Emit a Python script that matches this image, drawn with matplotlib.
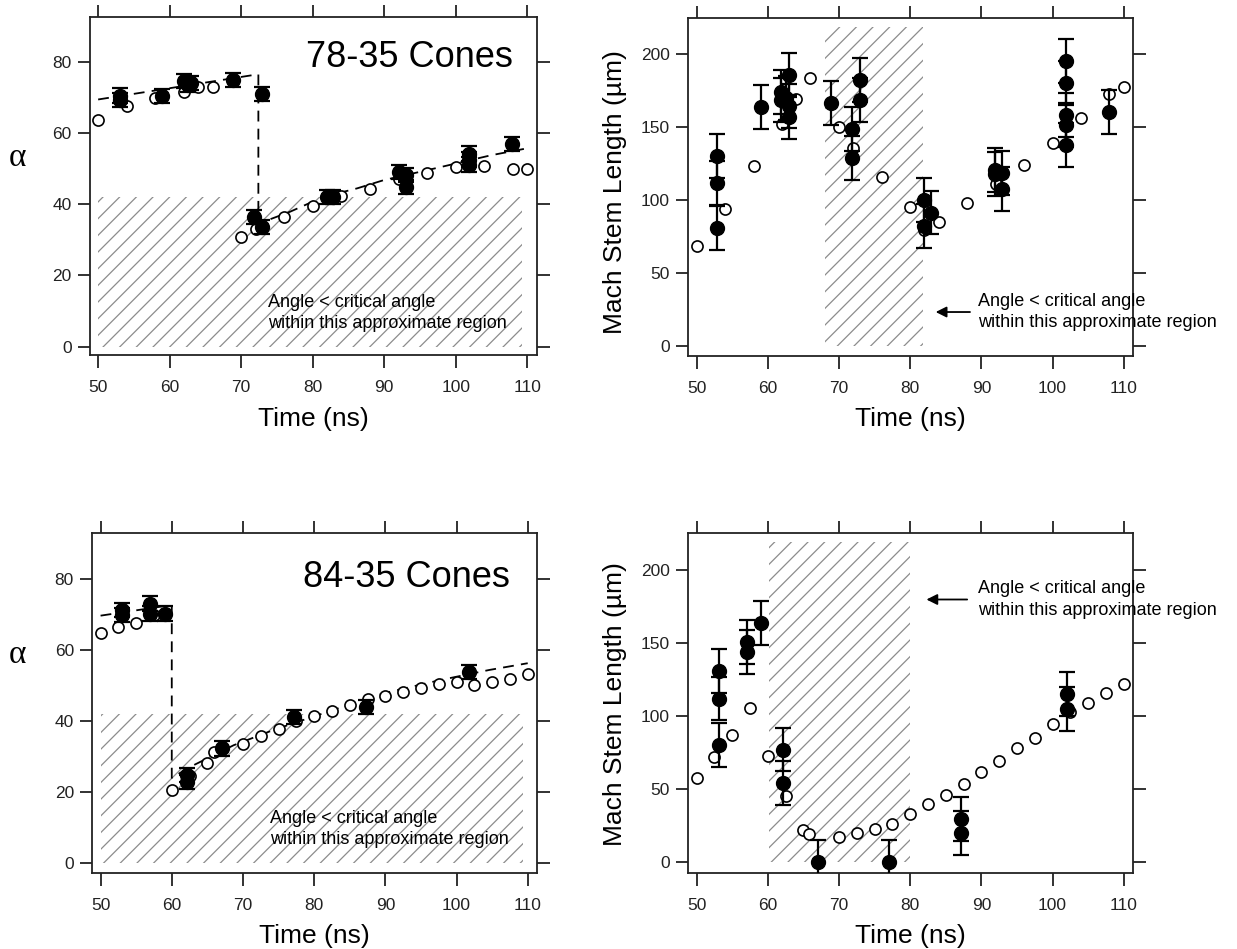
import matplotlib
matplotlib.use("Agg")
import matplotlib.pyplot as plt
from matplotlib.patches import Rectangle

plt.rcParams['font.family'] = ['Liberation Sans', 'DejaVu Sans']
plt.rcParams['hatch.linewidth'] = 0.9

# ---- 78-35 cones : angle ----
a1_open_t = [50, 54, 58, 62, 64, 66, 70, 72, 76, 80, 84, 88, 92, 96, 100, 104, 108, 110]
a1_open_v = [63.6, 67.8, 70.0, 71.6, 73.0, 73.0, 30.9, 33.2, 36.5, 39.5, 42.4, 44.4, 47.0, 48.7,
             50.5, 50.7, 50.0, 50.0]
a1_t = [53, 53, 58.9, 62, 62.5, 63, 68.9, 72.9, 71.8, 72.9, 82, 82.9, 92, 93, 93, 101.9, 101.9,
        101.9, 107.9]
a1_v = [70.6, 69.3, 70.4, 74.8, 73.6, 74.2, 74.9, 71.1, 36.5, 33.7, 42.1, 42.1, 49.1, 48.2, 44.9,
        54.3, 52.6, 51.2, 56.9]
a1_err = 2.0
a1_fit_t = [50, 72.4, 72.4, 73.1, 76.8, 81.5, 86.2, 89.9, 97.9, 104.9, 109.8]
a1_fit_v = [69.5, 76.6, 34.5, 35.1, 37.9, 42.1, 44.5, 46.8, 50.5, 53.8, 55.7]

# ---- 78-35 cones : mach stem ----
m1_open_t = [50, 54, 58, 62, 64, 66, 70, 72, 76, 80, 82, 84, 88, 92, 96, 100, 104, 108, 110]
m1_open_v = [69.1, 94.0, 123.6, 152.4, 169.3, 184.0, 150.1, 136.1, 115.9, 95.8, 80.0, 85.5, 98.1,
             111.3, 124.3, 139.1, 156.2, 172.9, 177.4]
m1_t = [52.9, 52.9, 52.9, 59.0, 61.9, 61.9, 62.5, 63.0, 63.0, 63.0, 68.9, 71.9, 71.9, 72.9, 72.9,
        81.9, 81.9, 82.9, 91.9, 91.9, 92.9, 92.9, 101.9, 101.9, 101.9, 101.9, 101.9, 107.9]
m1_v = [130.5, 111.8, 81.0, 163.8, 174.5, 168.8, 170.0, 186.0, 164.7, 157.4, 166.9, 148.7, 128.9,
        182.5, 168.8, 100.3, 82.3, 91.7, 120.9, 118.1, 119.0, 107.7, 195.7, 180.6, 158.5, 151.5,
        138.0, 160.6]
m1_err = 15.0

# ---- 84-35 cones : angle ----
a2_open_t = [50, 52.5, 55, 57.5, 60, 62.5, 65, 66, 70, 72.5, 75, 77.5, 80, 82.5, 85, 87.5, 90,
             92.5, 95, 97.5, 100, 102.5, 105, 107.5, 110]
a2_open_v = [64.7, 66.6, 67.7, 69.9, 20.6, 24.5, 28.1, 31.4, 33.5, 35.8, 37.7, 40.1, 41.4, 42.9,
             44.5, 46.1, 47.0, 48.3, 49.2, 50.4, 51.1, 50.3, 51.1, 51.8, 53.4]
a2_t = [53, 53, 56.9, 56.9, 59.1, 62.1, 62.1, 67.0, 77.1, 87.3, 101.8]
a2_v = [71.2, 69.8, 73.1, 70.3, 70.3, 24.8, 22.9, 32.3, 41.2, 43.9, 53.9]
a2_err = 2.0
a2_fit_t = [50, 60, 60, 62.6, 68.7, 74.3, 81.3, 89.7, 97.6, 104.6, 110]
a2_fit_v = [69.7, 72.7, 24.0, 27.1, 33.2, 37.5, 42.2, 47.8, 51.5, 54.4, 56.3]

# ---- 84-35 cones : mach stem ----
m2_open_t = [50, 52.5, 55, 57.5, 60, 62.5, 65, 65.8, 70, 72.5, 75, 77.5, 80, 82.5, 85, 87.5, 90,
             92.5, 95, 97.5, 100, 102.5, 105, 107.5, 110]
m2_open_v = [57.5, 71.8, 86.7, 105.6, 72.3, 45.0, 22.2, 19.0, 17.1, 20.1, 22.4, 25.8, 33.1, 39.5,
             45.6, 53.6, 61.6, 69.1, 78.3, 85.1, 94.2, 102.6, 108.8, 115.9, 121.6]
m2_t = [53.1, 53.1, 53.1, 57.1, 57.1, 59.1, 62.1, 62.1, 67.1, 77.1, 87.1, 87.1, 102.1, 102.1]
m2_v = [130.5, 111.8, 80.3, 150.5, 143.7, 163.5, 76.9, 54.0, 0.0, 0.0, 29.7, 19.9, 114.7, 104.5]
m2_err = 15.0

note = "Angle < critical angle\nwithin this approximate region"

fig = plt.figure(figsize=(12.37, 9.49), dpi=100)
ax1 = fig.add_axes([0.0724, 0.6254, 0.3614, 0.3567])
ax2 = fig.add_axes([0.5562, 0.6249, 0.3597, 0.3562])
ax3 = fig.add_axes([0.0744, 0.0801, 0.3597, 0.3583])
ax4 = fig.add_axes([0.5562, 0.0801, 0.3597, 0.3583])


def style(ax, ylim, yticks):
    ax.set_xlim(48.8, 111.3)
    ax.set_ylim(*ylim)
    ax.set_xticks([50, 60, 70, 80, 90, 100, 110])
    ax.set_yticks(yticks)
    ax.tick_params(direction='out', length=9, width=1.3, top=True, right=True,
                   labelsize=12.5, colors='#222222')
    ax.tick_params(axis='x', pad=9)
    ax.tick_params(axis='y', pad=4)
    for s in ax.spines.values():
        s.set_linewidth(1.3)
        s.set_color('#222222')
    ax.set_xlabel('Time (ns)', fontsize=19, labelpad=8)


def hatch(ax, x0, x1, y0, y1):
    ax.add_patch(Rectangle((x0, y0), x1 - x0, y1 - y0, facecolor='none',
                           edgecolor='#8c8c8c', linewidth=0, hatch='//', zorder=0))


def draw(ax, ot, ov, ft, fv, err):
    ax.plot(ot, ov, 'o', ms=8, mfc='white', mec='black', mew=1.2, zorder=3)
    ax.errorbar(ft, fv, yerr=err, fmt='o', ms=10, color='black', ecolor='black',
                elinewidth=1.6, capsize=6, capthick=1.6, zorder=4)


serif = ['Liberation Serif', 'DejaVu Serif']

# top left
style(ax1, (-2.5, 92.7), [0, 20, 40, 60, 80])
hatch(ax1, 50, 109.3, 0, 42)
ax1.plot(a1_fit_t, a1_fit_v, '--', color='black', lw=1.3, dashes=(6, 4), zorder=2)
draw(ax1, a1_open_t, a1_open_v, a1_t, a1_v, a1_err)
ax1.text(0.947, 0.88, '78-35 Cones', transform=ax1.transAxes, ha='right', va='center',
         fontsize=26)
ax1.text(73.8, 9.4, note, fontsize=13, ha='left', va='center', linespacing=1.35, zorder=5)
ax1.set_ylabel('α', rotation=0, fontsize=24, family=serif, va='center', ha='center')
ax1.yaxis.set_label_coords(-0.162, 0.585)

# top right
style(ax2, (-6.5, 225), [0, 50, 100, 150, 200])
hatch(ax2, 68, 81.8, 0, 219)
draw(ax2, m1_open_t, m1_open_v, m1_t, m1_v, m1_err)
ax2.annotate('', xy=(83.2, 23.6), xytext=(88.8, 23.6),
             arrowprops=dict(arrowstyle='-|>', color='black', lw=1.3, mutation_scale=16))
ax2.text(89.6, 23.6, note, fontsize=13, ha='left', va='center', linespacing=1.35,
         clip_on=False)
ax2.set_ylabel('Mach Stem Length (µm)', fontsize=19)
ax2.yaxis.set_label_coords(-0.137, 0.485)

# bottom left
style(ax3, (-2.8, 93), [0, 20, 40, 60, 80])
hatch(ax3, 50, 109.3, 0, 42)
ax3.plot(a2_fit_t, a2_fit_v, '--', color='black', lw=1.3, dashes=(6, 4), zorder=2)
draw(ax3, a2_open_t, a2_open_v, a2_t, a2_v, a2_err)
ax3.text(0.94, 0.868, '84-35 Cones', transform=ax3.transAxes, ha='right', va='center',
         fontsize=26)
ax3.text(73.8, 9.6, note, fontsize=13, ha='left', va='center', linespacing=1.35, zorder=5)
ax3.set_ylabel('α', rotation=0, fontsize=24, family=serif, va='center', ha='center')
ax3.yaxis.set_label_coords(-0.168, 0.641)

# bottom right
style(ax4, (-7.5, 225), [0, 50, 100, 150, 200])
hatch(ax4, 60.2, 80, 0, 219)
draw(ax4, m2_open_t, m2_open_v, m2_t, m2_v, m2_err)
ax4.annotate('', xy=(81.9, 179.5), xytext=(88.4, 179.5),
             arrowprops=dict(arrowstyle='-|>', color='black', lw=1.3, mutation_scale=16))
ax4.text(89.5, 179.5, note, fontsize=13, ha='left', va='center', linespacing=1.35,
         clip_on=False)
ax4.set_ylabel('Mach Stem Length (µm)', fontsize=19)
ax4.yaxis.set_label_coords(-0.137, 0.497)

fig.savefig('out.png', dpi=100)
